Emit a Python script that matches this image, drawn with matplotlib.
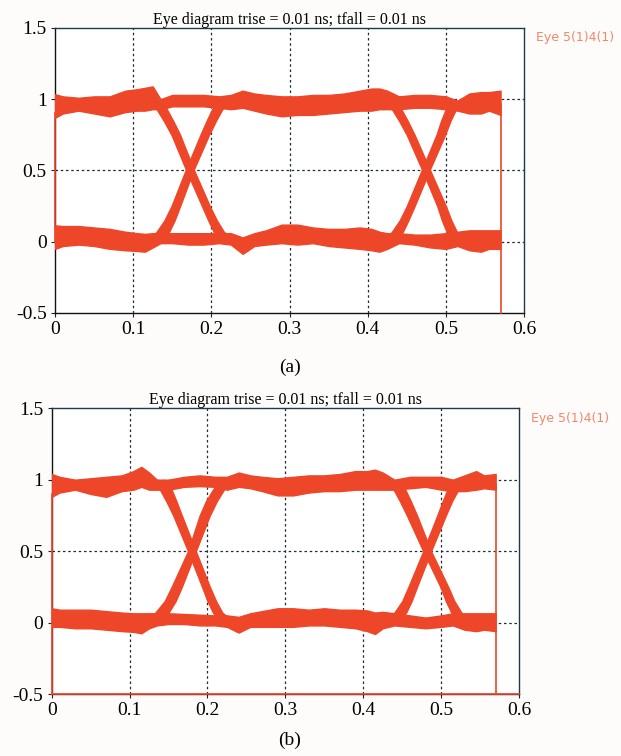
import matplotlib
matplotlib.use("Agg")
import matplotlib.pyplot as plt

# time breakpoints (ns) shared by the rail envelopes
t = [0, 0.01, 0.03, 0.05, 0.07, 0.09, 0.105, 0.115, 0.125, 0.135, 0.15, 0.17,
     0.19, 0.21, 0.225, 0.24, 0.255, 0.27, 0.29, 0.31, 0.33, 0.35, 0.37, 0.39,
     0.405, 0.415, 0.425, 0.44, 0.46, 0.48, 0.50, 0.515, 0.53, 0.545, 0.555, 0.57]

# ---- panel (a) ----
a_hi_up = [1.035, 1.02, 1.01, 1.02, 1.02, 1.06, 1.07, 1.08, 1.09, 1.00, 1.03, 1.03,
           1.03, 1.02, 1.03, 1.06, 1.04, 1.03, 1.02, 1.02, 1.03, 1.03, 1.04, 1.06,
           1.075, 1.075, 1.06, 1.02, 1.03, 1.03, 1.02, 0.99, 1.04, 1.05, 1.05, 1.06]
a_hi_lo = [0.87, 0.90, 0.92, 0.90, 0.88, 0.91, 0.92, 0.92, 0.93, 0.93, 0.95, 0.95,
           0.95, 0.94, 0.93, 0.94, 0.92, 0.90, 0.88, 0.89, 0.89, 0.90, 0.91, 0.92,
           0.92, 0.93, 0.93, 0.93, 0.94, 0.94, 0.93, 0.92, 0.90, 0.90, 0.92, 0.89]
a_lo_up = [0.115, 0.11, 0.11, 0.10, 0.09, 0.07, 0.06, 0.055, 0.06, 0.06, 0.06, 0.06,
           0.06, 0.06, 0.06, 0.03, 0.06, 0.08, 0.12, 0.12, 0.10, 0.09, 0.09, 0.10,
           0.09, 0.07, 0.06, 0.06, 0.05, 0.05, 0.06, 0.07, 0.08, 0.08, 0.08, 0.08]
a_lo_lo = [-0.05, -0.03, -0.02, -0.03, -0.05, -0.06, -0.065, -0.07, -0.04, -0.01, -0.01, -0.02,
           -0.02, -0.01, -0.02, -0.085, -0.03, -0.02, -0.01, -0.02, -0.01, -0.03, -0.04, -0.05,
           -0.06, -0.07, -0.05, -0.01, -0.02, -0.04, -0.05, -0.03, -0.06, -0.07, -0.05, -0.05]

# transition bands: y levels and left/right x edges
fall_y = [0.98, 0.93, 0.85, 0.75, 0.5, 0.25, 0.15, 0.07, 0.02]
rise_y = [0.02, 0.07, 0.15, 0.25, 0.5, 0.75, 0.85, 0.93, 0.98]

a_fall1_l = [0.121, 0.130, 0.139, 0.149, 0.168, 0.188, 0.196, 0.203, 0.210]
a_fall1_r = [0.133, 0.143, 0.151, 0.160, 0.178, 0.198, 0.207, 0.216, 0.226]
a_rise1_l = [0.122, 0.130, 0.140, 0.149, 0.167, 0.186, 0.194, 0.201, 0.209]
a_rise1_r = [0.138, 0.146, 0.153, 0.160, 0.177, 0.197, 0.206, 0.214, 0.225]
a_fall2_l = [0.423, 0.431, 0.440, 0.450, 0.470, 0.489, 0.495, 0.501, 0.508]
a_fall2_r = [0.435, 0.443, 0.451, 0.460, 0.480, 0.500, 0.507, 0.514, 0.524]
a_rise2_l = [0.423, 0.431, 0.441, 0.450, 0.469, 0.488, 0.494, 0.500, 0.508]
a_rise2_r = [0.437, 0.445, 0.452, 0.460, 0.479, 0.499, 0.506, 0.513, 0.524]

# retrace segments of the scope sweep
a_retrace = [([0.0, 0.0], [0.90, 0.0]), ([0.57, 0.57], [0.97, -0.5])]

# ---- panel (b) ----
b_hi_up = [1.04, 1.02, 1.00, 1.01, 1.02, 1.03, 1.06, 1.09, 1.05, 1.00, 1.00, 1.02,
           1.03, 1.02, 1.02, 1.05, 1.03, 1.02, 1.01, 1.02, 1.03, 1.03, 1.04, 1.06,
           1.06, 1.07, 1.05, 1.00, 1.02, 1.02, 1.02, 1.00, 1.03, 1.06, 1.03, 1.04]
b_hi_lo = [0.88, 0.91, 0.93, 0.90, 0.88, 0.92, 0.93, 0.95, 0.93, 0.93, 0.93, 0.95,
           0.955, 0.95, 0.93, 0.95, 0.94, 0.92, 0.89, 0.89, 0.91, 0.92, 0.92, 0.93,
           0.93, 0.93, 0.93, 0.93, 0.94, 0.95, 0.93, 0.92, 0.92, 0.93, 0.94, 0.93]
b_lo_up = [0.10, 0.09, 0.09, 0.09, 0.08, 0.07, 0.065, 0.065, 0.065, 0.065, 0.065, 0.06,
           0.055, 0.05, 0.05, 0.04, 0.065, 0.08, 0.10, 0.10, 0.09, 0.10, 0.09, 0.09,
           0.085, 0.07, 0.075, 0.065, 0.05, 0.035, 0.05, 0.065, 0.065, 0.065, 0.065, 0.065]
b_lo_lo = [-0.03, -0.03, -0.04, -0.04, -0.05, -0.06, -0.065, -0.075, -0.04, -0.02, -0.01, -0.01,
           -0.02, -0.02, -0.03, -0.07, -0.03, -0.03, -0.03, -0.03, -0.02, -0.02, -0.03, -0.04,
           -0.06, -0.08, -0.04, -0.02, -0.03, -0.04, -0.03, -0.02, -0.05, -0.06, -0.05, -0.06]

b_fall1_l = [0.130, 0.139, 0.147, 0.156, 0.175, 0.193, 0.200, 0.207, 0.214]
b_fall1_r = [0.145, 0.154, 0.160, 0.167, 0.185, 0.203, 0.211, 0.219, 0.230]
b_rise1_l = [0.125, 0.133, 0.145, 0.154, 0.175, 0.190, 0.198, 0.207, 0.214]
b_rise1_r = [0.142, 0.150, 0.159, 0.167, 0.185, 0.203, 0.212, 0.221, 0.231]
b_fall2_l = [0.431, 0.439, 0.447, 0.456, 0.477, 0.499, 0.506, 0.513, 0.519]
b_fall2_r = [0.446, 0.454, 0.461, 0.469, 0.487, 0.509, 0.517, 0.526, 0.535]
b_rise2_l = [0.431, 0.440, 0.450, 0.458, 0.477, 0.495, 0.502, 0.508, 0.516]
b_rise2_r = [0.447, 0.455, 0.462, 0.469, 0.487, 0.506, 0.514, 0.522, 0.532]

b_retrace = [([0.0, 0.0], [0.90, -0.5]), ([0.57, 0.57], [0.97, -0.5]),
             ([0.0, 0.6], [-0.497, -0.497])]

x_ticks = [0, 0.1, 0.2, 0.3, 0.4, 0.5, 0.6]
x_labels = ["0", "0.1", "0.2", "0.3", "0.4", "0.5", "0.6"]
y_ticks = [-0.5, 0, 0.5, 1, 1.5]
y_labels = ["-0.5", "0", "0.5", "1", "1.5"]

title = "Eye diagram trise = 0.01 ns; tfall = 0.01 ns"
legend_text = "Eye 5(1)4(1)"

TRACE = "#ee4628"
SERIF = ["Liberation Serif", "DejaVu Serif"]


def draw_eye(ax, hi_up, hi_lo, lo_up, lo_lo, edges, retrace):
    """Draws one eye diagram: two rails, four transition bands and retraces."""
    ax.set_facecolor("white")
    ax.fill_between(t, hi_lo, hi_up, color=TRACE, lw=1.0, ec=TRACE, zorder=3)
    ax.fill_between(t, lo_lo, lo_up, color=TRACE, lw=1.0, ec=TRACE, zorder=3)
    for ys, xl, xr in edges:
        ax.fill_betweenx(ys, xl, xr, color=TRACE, lw=1.0, ec=TRACE, zorder=3)
    for xs, ys in retrace:
        ax.plot(xs, ys, color=TRACE, lw=1.2, zorder=4, clip_on=False)

    ax.set_xlim(0, 0.6)
    ax.set_ylim(-0.5, 1.5)
    ax.set_xticks(x_ticks)
    ax.set_xticklabels(x_labels, family=SERIF, fontsize=14)
    ax.set_yticks(y_ticks)
    ax.set_yticklabels(y_labels, family=SERIF, fontsize=14)
    ax.tick_params(direction="out", length=3, width=0.8, pad=3, color="#222222")

    # dotted grid, drawn by hand so the edges are left alone
    for x in x_ticks[1:-1]:
        ax.axvline(x, color="#1c2c38", lw=0.9, ls=(0, (2, 2.2)), zorder=1)
    for y in y_ticks[1:-1]:
        ax.axhline(y, color="#1c2c38", lw=0.9, ls=(0, (2, 2.2)), zorder=1)

    ax.spines["left"].set_color("#111111")
    ax.spines["bottom"].set_color("#111111")
    ax.spines["top"].set_color("#1d3a4a")
    ax.spines["right"].set_color("#1d3a4a")
    for s in ax.spines.values():
        s.set_linewidth(1.0)

    ax.set_title(title, family=SERIF, fontsize=11.5, pad=3)
    ax.text(1.025, 0.965, legend_text, transform=ax.transAxes, color="#f4866c",
            fontsize=9, family="DejaVu Sans", va="center", ha="left")


fig = plt.figure(figsize=(6.21, 7.56), dpi=100)
fig.patch.set_facecolor("#fefcfb")

ax_a = fig.add_axes([0.0886, 0.586, 0.7552, 0.377])
draw_eye(ax_a, a_hi_up, a_hi_lo, a_lo_up, a_lo_lo,
         [(fall_y, a_fall1_l, a_fall1_r), (rise_y, a_rise1_l, a_rise1_r),
          (fall_y, a_fall2_l, a_fall2_r), (rise_y, a_rise2_l, a_rise2_r)],
         a_retrace)

ax_b = fig.add_axes([0.0833, 0.082, 0.7525, 0.378])
draw_eye(ax_b, b_hi_up, b_hi_lo, b_lo_up, b_lo_lo,
         [(fall_y, b_fall1_l, b_fall1_r), (rise_y, b_rise1_l, b_rise1_r),
          (fall_y, b_fall2_l, b_fall2_r), (rise_y, b_rise2_l, b_rise2_r)],
         b_retrace)

fig.text(290 / 621, 1 - 367 / 756, "(a)", family=SERIF, fontsize=14, ha="center", va="center")
fig.text(290 / 621, 1 - 740 / 756, "(b)", family=SERIF, fontsize=14, ha="center", va="center")

fig.savefig("out.png", dpi=100, facecolor=fig.get_facecolor())
